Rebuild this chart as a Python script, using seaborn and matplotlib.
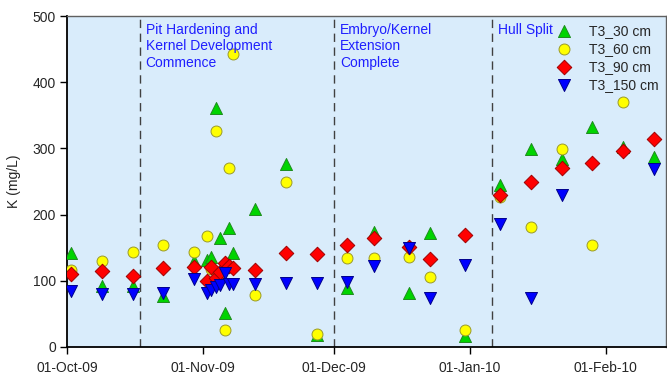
import numpy as np
import pandas as pd
import matplotlib
matplotlib.use("Agg")
import matplotlib.pyplot as plt
import matplotlib.dates as mdates
import seaborn as sns

# Sampling dates
dates = ["2009-10-02", "2009-10-09", "2009-10-16", "2009-10-23", "2009-10-30",
         "2009-11-02", "2009-11-03", "2009-11-04", "2009-11-05", "2009-11-06",
         "2009-11-07", "2009-11-08", "2009-11-13", "2009-11-20", "2009-11-27",
         "2009-12-04", "2009-12-10", "2009-12-18", "2009-12-23", "2009-12-31",
         "2010-01-08", "2010-01-15", "2010-01-22", "2010-01-29", "2010-02-05",
         "2010-02-12"]

# Soil-water K concentration (mg/L) at each depth
k_30cm = [142, 92, 92, 77, 130, 131, 136, 361, 165, 51, 180, 142, 208, 276, 18,
          89, 174, 81, 172, 17, 245, 299, 284, 333, 302, 287]
k_60cm = [117, 130, 143, 154, 144, 168, 118, 327, 112, 26, 271, 442, 79, 250, 20,
          134, 135, 136, 106, 26, 227, 181, 299, 154, 370, np.nan]
k_90cm = [110, 115, 108, 119, 121, 100, 121, 104, 113, 127, 122, 119, 116, 142, 140,
          154, 165, 151, 133, 169, 230, 250, 270, 278, 296, 314]
k_150cm = [84, 80, 80, 82, 103, 82, 86, 90, 93, 112, 95, 95, 95, 97, 97,
           98, 122, 150, 74, 124, 186, 74, 230, np.nan, np.nan, 269]

series_names = ["T3_30 cm", "T3_60 cm", "T3_90 cm", "T3_150 cm"]

# Crop stage boundaries and their labels
stage_dates = ["2009-10-17 16:00", "2009-12-01", "2010-01-06 02:00"]
stage_labels = ["Pit Hardening and\nKernel Development\nCommence",
                "Embryo/Kernel\nExtension\nComplete",
                "Hull Split"]

y_ticks = [0, 100, 200, 300, 400, 500]
x_tick_dates = ["2009-10-01", "2009-11-01", "2009-12-01", "2010-01-01", "2010-02-01"]

df = pd.DataFrame({"date": pd.to_datetime(dates),
                   series_names[0]: k_30cm,
                   series_names[1]: k_60cm,
                   series_names[2]: k_90cm,
                   series_names[3]: k_150cm})
long = df.melt(id_vars="date", var_name="depth", value_name="K").dropna()

styles = {
    "T3_30 cm": dict(marker="^", face="#00D400", edge="#1E8C1E", s=75),
    "T3_60 cm": dict(marker="o", face="#FFFF00", edge="#9A9A2A", s=62),
    "T3_90 cm": dict(marker="D", face="#FF0000", edge="#A00000", s=55),
    "T3_150 cm": dict(marker="v", face="#0000FF", edge="#00008C", s=75),
}

sns.set_style("white")
plt.rcParams["font.family"] = ["Liberation Sans", "DejaVu Sans"]

fig = plt.figure(figsize=(6.67, 3.77), dpi=100)
ax = fig.add_axes([67 / 667, 1 - 347 / 377, 599 / 667, 331 / 377])
ax.set_facecolor("#D9ECFB")

for name in series_names:
    st = styles[name]
    sub = long[long["depth"] == name]
    sns.scatterplot(data=sub, x="date", y="K", ax=ax, marker=st["marker"],
                    color=st["face"], edgecolor=st["edge"], linewidth=0.7,
                    s=st["s"], label=name, zorder=3)

for d, lab in zip(stage_dates, stage_labels):
    xd = pd.Timestamp(d)
    ax.axvline(xd, color="#404040", lw=1.0, ls=(0, (6, 4)), zorder=2)
    ax.text(xd + pd.Timedelta(days=1.3), 490, lab, color="#1F1FFF",
            fontsize=10, va="top", ha="left", linespacing=1.24, zorder=4)

x0 = pd.Timestamp("2009-10-01")
ax.set_xlim(x0, x0 + pd.Timedelta(days=136.8))
ax.set_ylim(0, 500)
ax.set_yticks(y_ticks)
ax.set_xticks(pd.to_datetime(x_tick_dates))
ax.xaxis.set_major_formatter(mdates.DateFormatter("%d-%b-%y"))
ax.tick_params(axis="both", which="major", labelsize=10, direction="out",
               length=5, width=1, color="black", bottom=True, left=True, pad=3)
ax.tick_params(axis="x", pad=5)
ax.set_xlabel("")
ax.set_ylabel("K (mg/L)", fontsize=10, labelpad=8)

for side in ["left", "bottom"]:
    ax.spines[side].set_color("black")
    ax.spines[side].set_linewidth(1.3)
for side in ["top", "right"]:
    ax.spines[side].set_color("#606060")
    ax.spines[side].set_linewidth(1.0)

leg = ax.legend(loc="upper right", bbox_to_anchor=(1.0, 1.0), frameon=False,
                fontsize=10, handletextpad=0.75, labelspacing=0.3,
                borderaxespad=0.15, markerscale=1.0)

fig.savefig("out.png", dpi=100, facecolor="white")
